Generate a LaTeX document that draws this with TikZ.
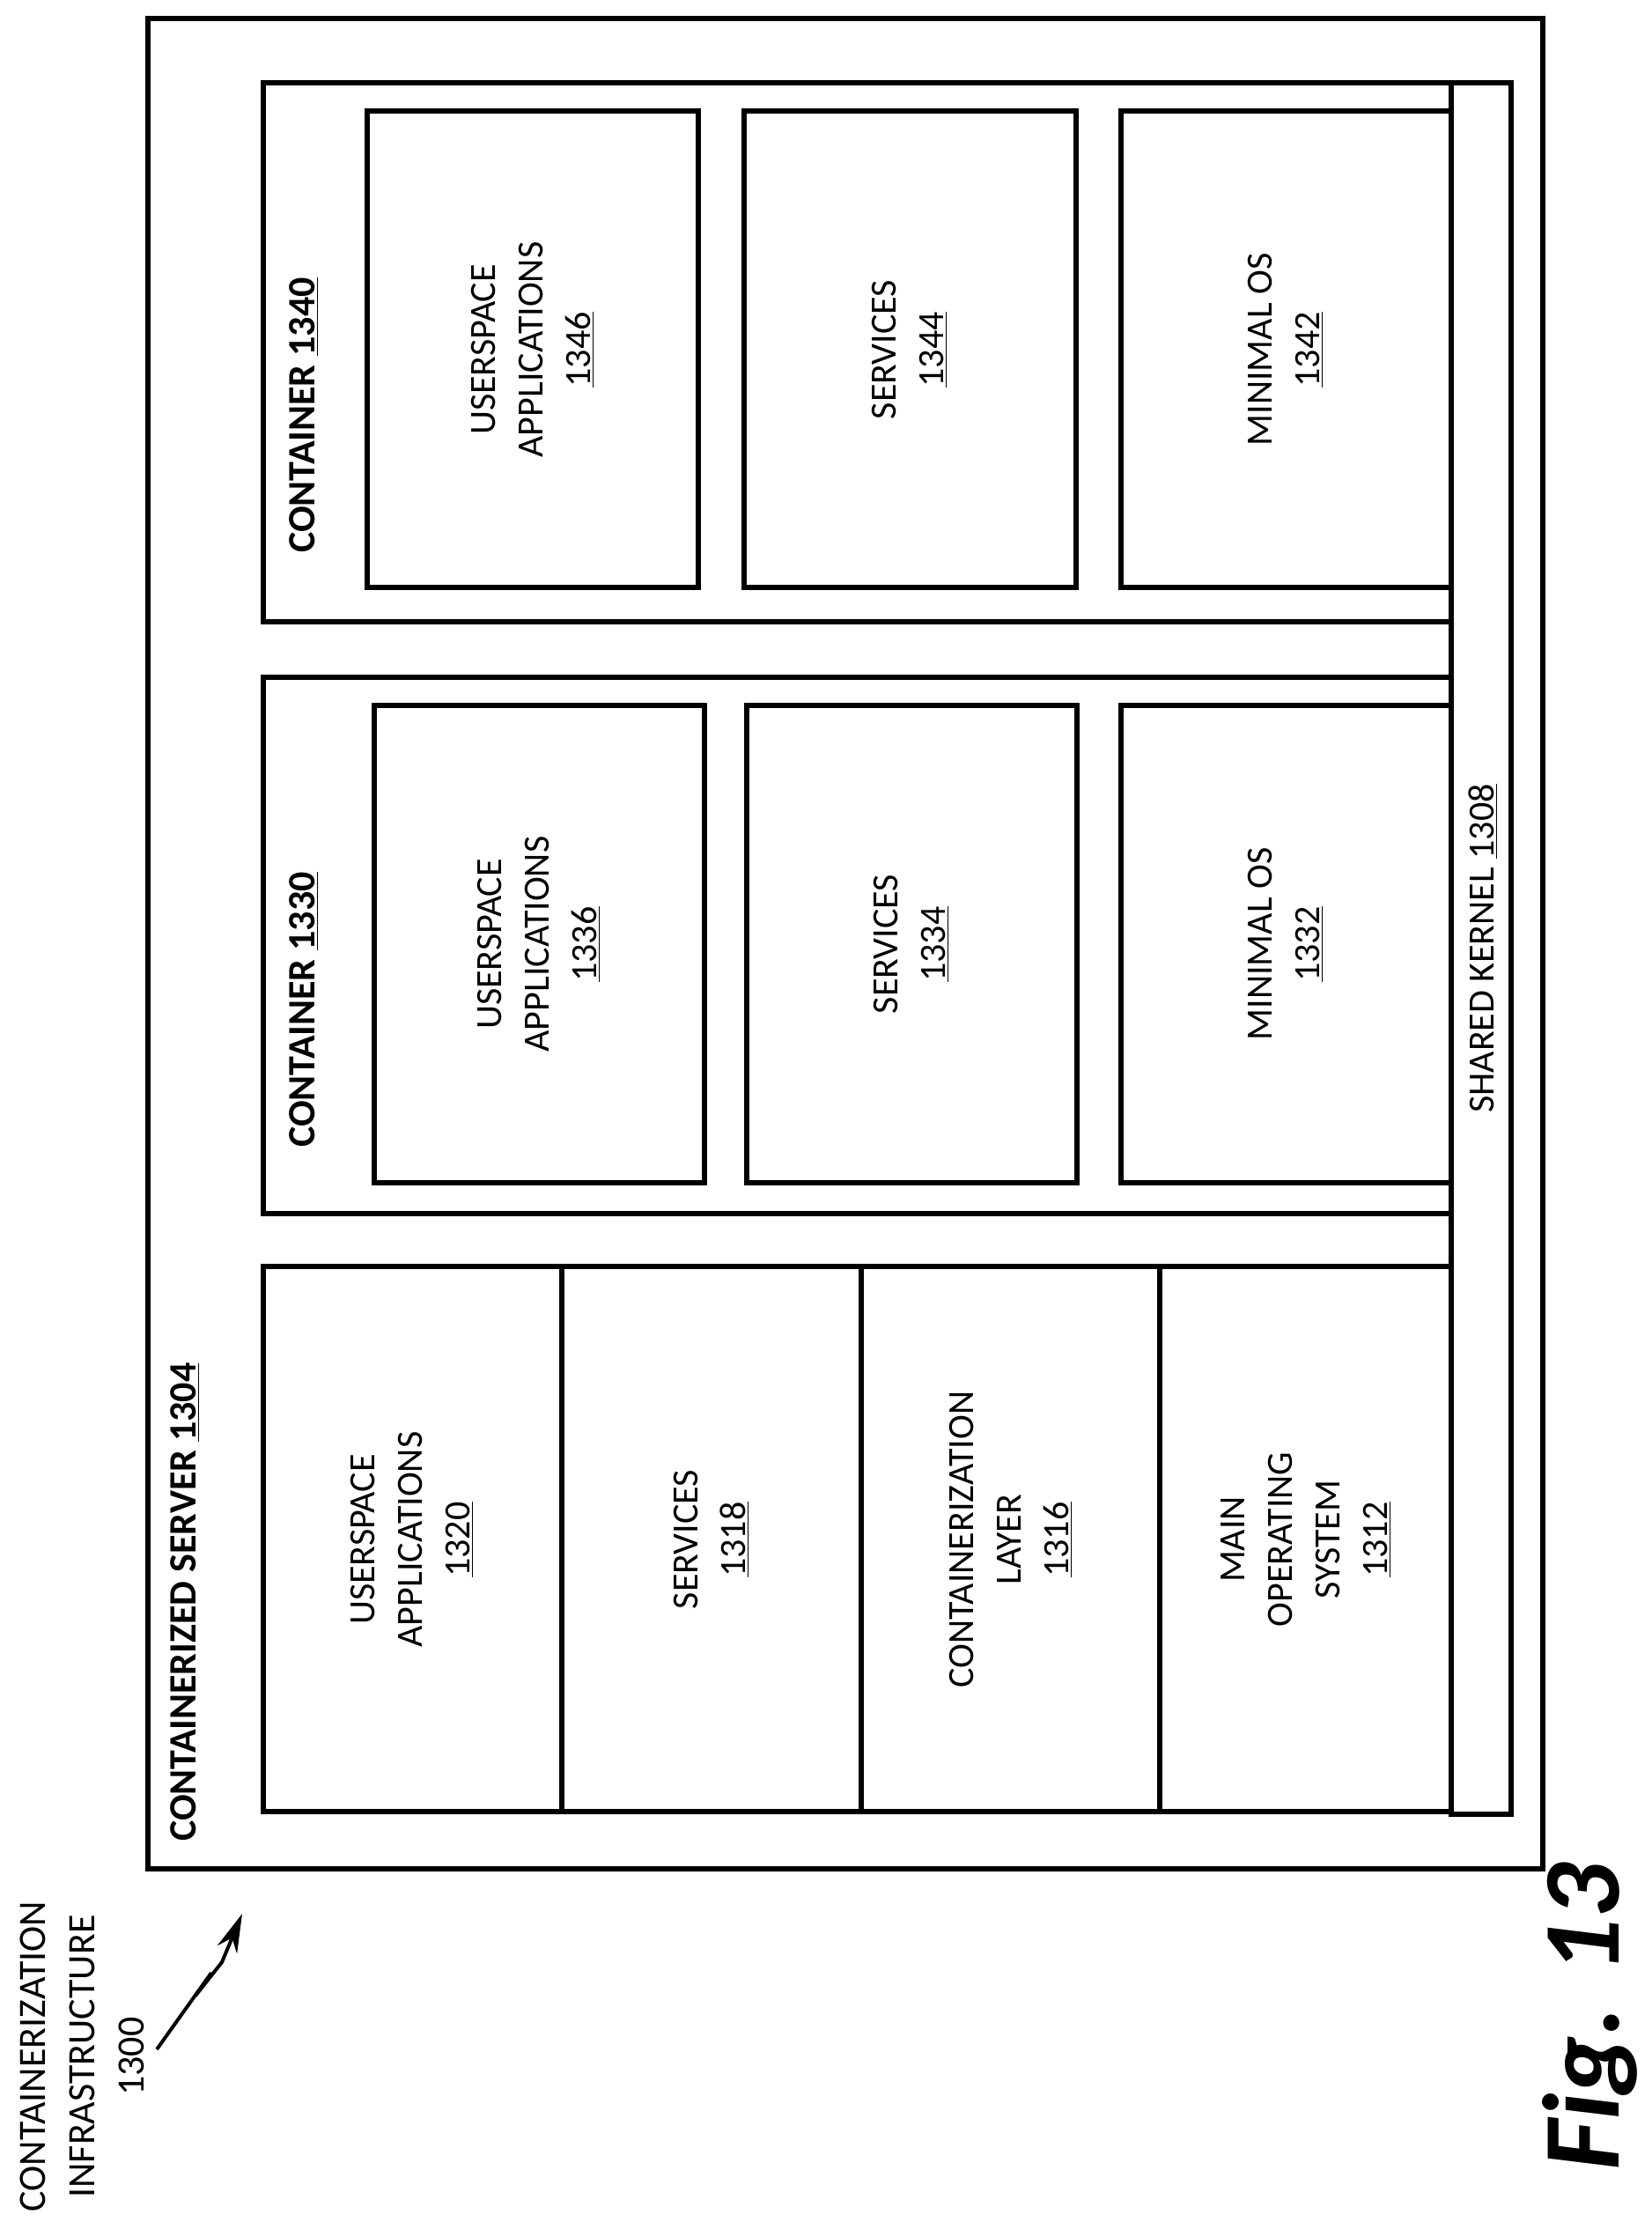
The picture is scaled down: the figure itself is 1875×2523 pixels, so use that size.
\documentclass[tikz,border=0pt]{standalone}
\usepackage{fontspec}
\setmainfont{Carlito}
\usetikzlibrary{arrows.meta}
\begin{document}
\begin{tikzpicture}[x=0.5pt,y=-0.5pt,
  box/.style={draw,line width=3pt},
  lbl/.style={rotate=90,align=center,font=\fontsize{21}{27}\selectfont},
  ttl/.style={rotate=90,anchor=west,font=\fontsize{22}{27}\selectfont\bfseries}]
\useasboundingbox (0,0) rectangle (1875,2523);
\draw[box] (168,21) rectangle (1752,2122);
\draw[box] (1648,94) rectangle (1716,2060);
\node[lbl] (kt) at (1684,1077) {SHARED KERNEL \underline{1308}};
% container 1340
\draw[box] (1648,94) -- (299,94) -- (299,706) -- (1648,706);
\node[ttl] (t40) at (345,635) {CONTAINER \underline{1340}};
\draw[box] (417,126) rectangle (793,667);
\draw[box] (845,126) rectangle (1222,667);
\draw[box] (1273,126) rectangle (1648,667);
\node[lbl] (b46) at (605,397) {USERSPACE\\APPLICATIONS\\\underline{1346}};
\node[lbl] (b44) at (1033,397) {SERVICES\\\underline{1344}};
\node[lbl] (b42) at (1460,397) {MINIMAL OS\\\underline{1342}};
% container 1330
\draw[box] (1648,769) -- (299,769) -- (299,1378) -- (1648,1378);
\node[ttl] (t30) at (345,1310) {CONTAINER \underline{1330}};
\draw[box] (425,801) rectangle (800,1343);
\draw[box] (848,801) rectangle (1223,1343);
\draw[box] (1273,801) rectangle (1648,1343);
\node[lbl] (b36) at (612,1072) {USERSPACE\\APPLICATIONS\\\underline{1336}};
\node[lbl] (b34) at (1035,1072) {SERVICES\\\underline{1334}};
\node[lbl] (b32) at (1460,1072) {MINIMAL OS\\\underline{1332}};
% server
\draw[box] (1648,1438) -- (299,1438) -- (299,2057) -- (1648,2057);
\draw[box] (638,1438) -- (638,2057);
\draw[box] (978,1438) -- (978,2057);
\draw[box] (1317,1438) -- (1317,2057);
\node[ttl] (t04) at (210,2098) {CONTAINERIZED SERVER \underline{1304}};
\node[lbl] (s20) at (468,1748) {USERSPACE\\APPLICATIONS\\\underline{1320}};
\node[lbl] (s18) at (808,1748) {SERVICES\\\underline{1318}};
\node[lbl] (s16) at (1148,1748) {CONTAINERIZATION\\LAYER\\\underline{1316}};
\node[lbl] (s12) at (1483,1748) {MAIN\\OPERATING\\SYSTEM\\\underline{1312}};
% infra label
\node[lbl,font=\fontsize{22}{28}\selectfont] (inf) at (93,2335) {CONTAINERIZATION\\INFRASTRUCTURE\\1300};
\coordinate (a1) at (178,2327);
\coordinate (a2) at (275,2173);
\draw[line width=2pt,-{Stealth[length=22pt,width=12pt]}] (a1) -- (240,2240) -- (222,2266) -- (252,2228) -- (a2);
\node[rotate=90,font=\fontsize{62}{62}\selectfont\bfseries\itshape] (fig) at (1805,2290) {Fig. 13};
\end{tikzpicture}
\end{document}
